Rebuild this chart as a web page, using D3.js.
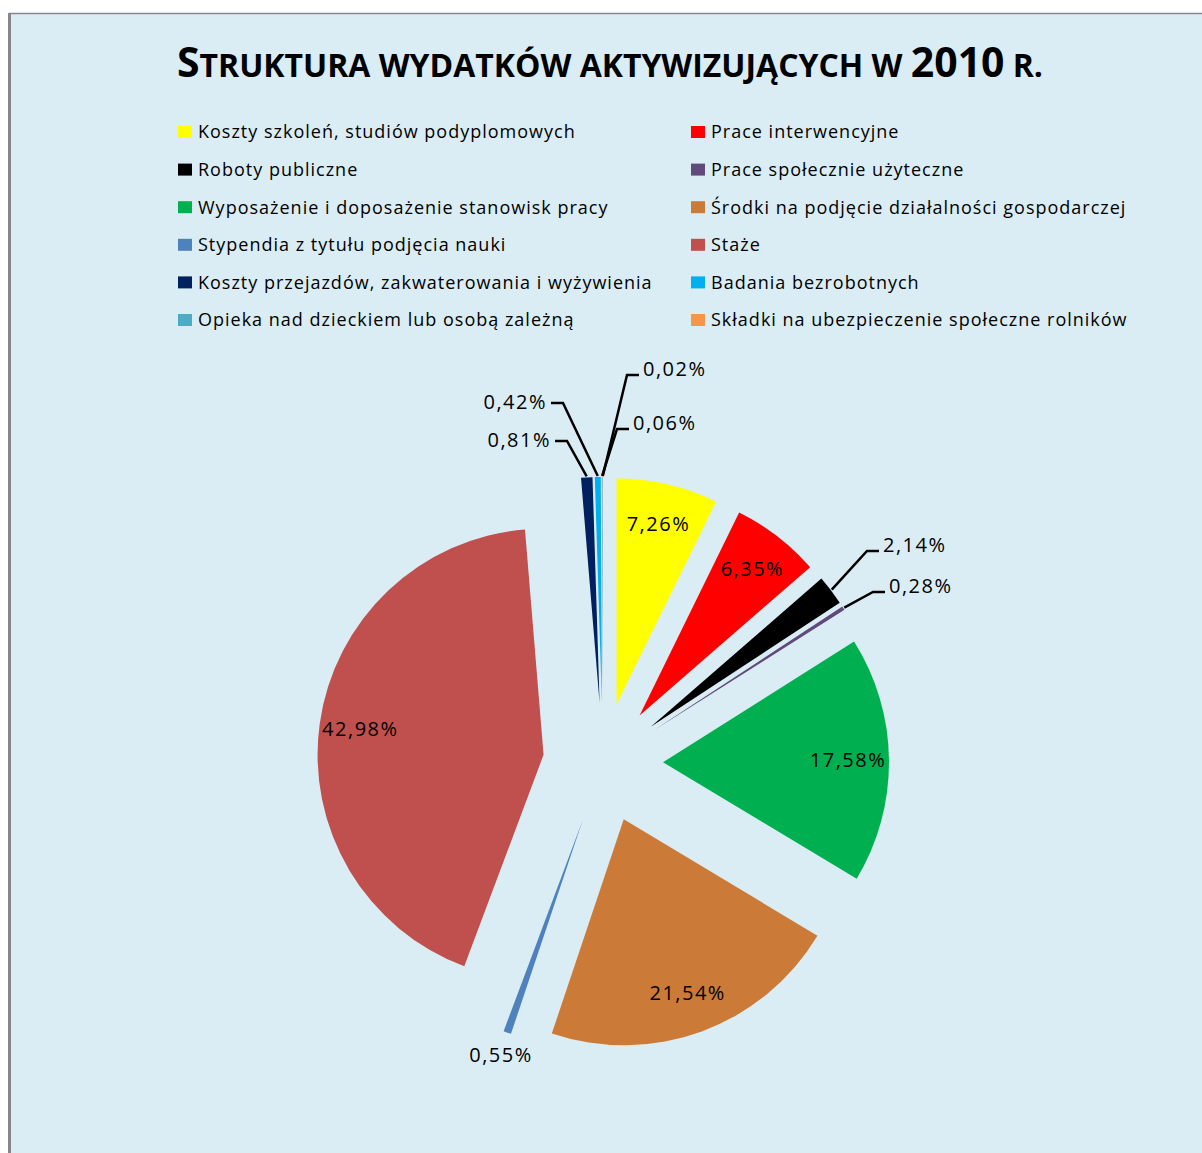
<!DOCTYPE html>
<html>
<head>
<meta charset="utf-8">
<script src="https://cdn.jsdelivr.net/npm/d3@7"></script>
<style>
  html, body { margin: 0; padding: 0; background: #ffffff; }
  svg { display: block; }
</style>
</head>
<body>
<div id="chart"></div>
<script>
// data
const categories = [
    "Koszty szkoleń, studiów podyplomowych",
    "Prace interwencyjne",
    "Roboty publiczne",
    "Prace społecznie użyteczne",
    "Wyposażenie i doposażenie stanowisk pracy",
    "Środki na podjęcie działalności gospodarczej",
    "Stypendia z tytułu podjęcia nauki",
    "Staże",
    "Koszty przejazdów, zakwaterowania i wyżywienia",
    "Badania bezrobotnych",
    "Opieka nad dzieckiem lub osobą zależną",
    "Składki na ubezpieczenie społeczne rolników"
];
const shares = [7.26, 6.35, 2.14, 0.28, 17.58, 21.54, 0.55, 42.98, 0.81, 0.42, 0.06, 0.02];
const colors = ["#ffff00", "#ff0000", "#000000", "#604a7b", "#00b050", "#cc7a38",
                "#4f81bd", "#c0504d", "#002060", "#00b0f0", "#4bacc6", "#f79646"];

// labels that sit outside the pie: elbow of the leader line relative to the pie centre
// (side = which way the short horizontal hook goes)
const outsideLabels = [
    { i: 2,  elbow: [264, -212], side: 1 },
    { i: 3,  elbow: [270, -171], side: 1 },
    { i: 6,  elbow: null, pos: [-102, 292] },
    { i: 8,  elbow: [-36, -322], side: -1 },
    { i: 9,  elbow: [-40, -360], side: -1 },
    { i: 10, elbow: [14, -334], side: 1 },
    { i: 11, elbow: [24, -388], side: 1 }
];

function main() {
    var width = 1202, height = 1153;
    var cx = 603, cy = 763, radius = 226, explode = 60, labelR = 185;
    var fmt = function (v) { return d3.format(".2f")(v).replace(".", ",") + "%"; };

    var svg = d3.select("#chart")
        .append("svg")
        .attr("width", width)
        .attr("height", height);

    // chart area + border
    svg.append("rect")
        .attr("x", 9).attr("y", 13)
        .attr("width", width).attr("height", height)
        .attr("fill", "#dbedf4");
    svg.append("line")
        .attr("x1", 9).attr("x2", width).attr("y1", 13.5).attr("y2", 13.5)
        .attr("stroke", "#868686").attr("stroke-width", 1.5);
    svg.append("line")
        .attr("x1", 9.5).attr("x2", 9.5).attr("y1", 13).attr("y2", height)
        .attr("stroke", "#868686").attr("stroke-width", 3);

    // title in small caps
    var title = svg.append("text")
        .attr("x", 177).attr("y", 77)
        .attr("font-family", "'Open Sans', sans-serif")
        .attr("font-weight", "bold")
        .attr("fill", "#000")
        .attr("textLength", 866)
        .attr("lengthAdjust", "spacingAndGlyphs");
    title.append("tspan").attr("font-size", 41).text("S");
    title.append("tspan").attr("font-size", 32).text("TRUKTURA WYDATKÓW AKTYWIZUJĄCYCH W ");
    title.append("tspan").attr("font-size", 41).text("2010");
    title.append("tspan").attr("font-size", 32).text(" R.");

    // legend, two columns
    var legend = svg.append("g")
        .selectAll("g")
        .data(categories)
        .enter()
        .append("g")
        .attr("transform", function (d, i) {
            return "translate(" + (i % 2 === 0 ? 178 : 691) + "," + (132 + Math.floor(i / 2) * 37.6) + ")";
        });
    legend.append("rect")
        .attr("x", 0).attr("y", -6)
        .attr("width", 14).attr("height", 12)
        .attr("fill", function (d, i) { return colors[i]; });
    legend.append("text")
        .attr("x", 20).attr("y", 0)
        .attr("dy", "0.35em")
        .attr("font-family", "'Open Sans', sans-serif")
        .attr("font-size", 18)
        .attr("letter-spacing", 1.0)
        .attr("fill", "#000")
        .text(function (d) { return d; });

    // exploded pie
    var pie = d3.pie().sort(null).value(function (d) { return d; });
    var arcs = pie(shares);
    var arc = d3.arc().innerRadius(0).outerRadius(radius);
    var mid = function (d) { return (d.startAngle + d.endAngle) / 2; };
    var polar = function (a, r) { return [r * Math.sin(a), -r * Math.cos(a)]; };

    var g = svg.append("g").attr("transform", "translate(" + cx + "," + cy + ")");

    var slices = g.selectAll("g.slice")
        .data(arcs)
        .enter()
        .append("g")
        .attr("class", "slice")
        .attr("transform", function (d) {
            var o = polar(mid(d), explode);
            return "translate(" + o[0] + "," + o[1] + ")";
        });
    slices.append("path")
        .attr("d", arc)
        .attr("fill", function (d, i) { return colors[i]; });

    var outsideIdx = outsideLabels.map(function (o) { return o.i; });

    // labels inside the big slices
    slices.filter(function (d, i) { return outsideIdx.indexOf(i) < 0; })
        .append("text")
        .attr("transform", function (d) {
            var p = polar(mid(d), labelR);
            return "translate(" + p[0] + "," + p[1] + ")";
        })
        .attr("text-anchor", "middle")
        .attr("dy", "0.35em")
        .attr("font-family", "'Open Sans', sans-serif")
        .attr("font-size", 20)
        .attr("letter-spacing", 1.5)
        .attr("fill", "#000")
        .text(function (d) { return fmt(d.value); });

    // labels outside with leader lines
    outsideLabels.forEach(function (o) {
        var d = arcs[o.i];
        var a = mid(d);
        var off = polar(a, explode);
        var edge = polar(a, radius + 1);
        var start = [off[0] + edge[0], off[1] + edge[1]];
        var tx, ty, anchor;
        if (o.elbow) {
            var hook = [o.elbow[0] + o.side * 12, o.elbow[1]];
            g.append("path")
                .attr("d", d3.line()([start, o.elbow, hook]))
                .attr("fill", "none")
                .attr("stroke", "#000")
                .attr("stroke-width", 2.5);
            tx = hook[0] + o.side * 4;
            ty = o.elbow[1] - (o.side > 0 ? 6 : 1);
            anchor = o.side > 0 ? "start" : "end";
        } else {
            tx = o.pos[0]; ty = o.pos[1]; anchor = "middle";
        }
        g.append("text")
            .attr("x", tx).attr("y", ty)
            .attr("dy", "0.35em")
            .attr("text-anchor", anchor)
            .attr("font-family", "'Open Sans', sans-serif")
            .attr("font-size", 20)
            .attr("letter-spacing", 1.5)
            .attr("fill", "#000")
            .text(fmt(d.value));
    });
}

main();
</script>
</body>
</html>
